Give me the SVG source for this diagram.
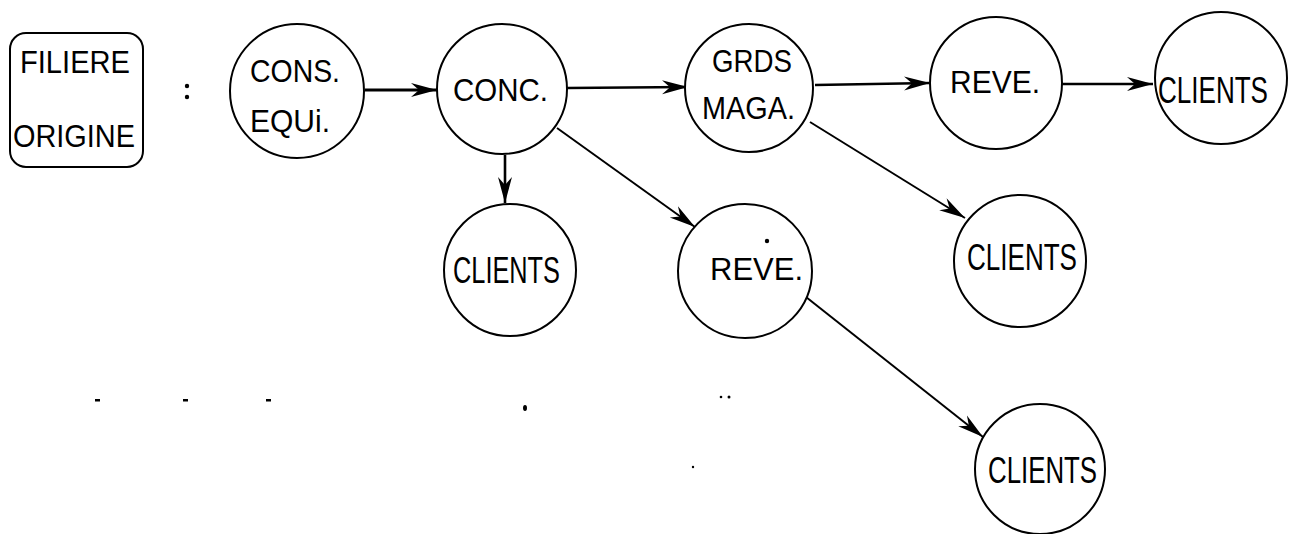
<svg xmlns="http://www.w3.org/2000/svg" width="1296" height="534" viewBox="0 0 1296 534">
<style>
.node{fill:#fff;stroke:#000;stroke-width:2}
.lbl{font-family:"Liberation Sans",Arial,sans-serif;font-size:32px;fill:#000}
.tall{font-size:37px}
.edge{fill:none;stroke:#000;stroke-width:2}
.h{stroke-width:2.6}
.thick{stroke-width:3.2}
.mark{fill:#000}
</style>
<defs>
<marker id="arr" markerUnits="userSpaceOnUse" markerWidth="28" markerHeight="16" refX="26" refY="8" orient="auto">
<path d="M0,1 L26,8 L0,15 L8,8 Z" fill="#000"/>
</marker>
</defs>
<g id="connectors">
<path class="edge thick" d="M365,90 L437,90" marker-end="url(#arr)"/>
<path class="edge h" d="M567,88 L688,87" marker-end="url(#arr)"/>
<path class="edge h" d="M815,85 L930,83" marker-end="url(#arr)"/>
<path class="edge h" d="M1062,84 L1153,84" marker-end="url(#arr)"/>
<path class="edge h" d="M505,155 L505,203" marker-end="url(#arr)"/>
<path class="edge" d="M557,128 L695,227" marker-end="url(#arr)"/>
<path class="edge" d="M810,122 L965,218" marker-end="url(#arr)"/>
<path class="edge" d="M806,297 L983,437" marker-end="url(#arr)"/>
</g>
<g id="filiere-origine">
<rect class="node" x="10" y="33" width="133" height="134" rx="16"/>
<text class="lbl" x="20" y="73" textLength="110" lengthAdjust="spacingAndGlyphs">FILIERE</text>
<text class="lbl" x="13" y="147" textLength="122" lengthAdjust="spacingAndGlyphs">ORIGINE</text>
</g>
<g id="colon">
<circle class="mark" cx="187" cy="86" r="2.2"/>
<circle class="mark" cx="187" cy="97" r="2.2"/>
</g>
<g id="cons-equi">
<circle class="node" cx="297" cy="91" r="67"/>
<text class="lbl" x="250" y="82" textLength="90" lengthAdjust="spacingAndGlyphs">CONS.</text>
<text class="lbl" x="250" y="132" textLength="80" lengthAdjust="spacingAndGlyphs">EQUi.</text>
</g>
<g id="conc">
<circle class="node" cx="502" cy="89" r="65"/>
<text class="lbl" x="453" y="101" textLength="95" lengthAdjust="spacingAndGlyphs">CONC.</text>
</g>
<g id="grds-maga">
<circle class="node" cx="749" cy="88" r="64"/>
<text class="lbl" x="712" y="72" textLength="80" lengthAdjust="spacingAndGlyphs">GRDS</text>
<text class="lbl" x="702" y="119" textLength="93" lengthAdjust="spacingAndGlyphs">MAGA.</text>
</g>
<g id="reve-1">
<circle class="node" cx="996" cy="83" r="66"/>
<text class="lbl" x="950" y="93" textLength="90" lengthAdjust="spacingAndGlyphs">REVE.</text>
</g>
<g id="clients-1">
<circle class="node" cx="1221" cy="78" r="66"/>
<text class="lbl tall" x="1158" y="103" textLength="110" lengthAdjust="spacingAndGlyphs">CLIENTS</text>
</g>
<g id="clients-2">
<circle class="node" cx="510" cy="270" r="66"/>
<text class="lbl tall" x="453" y="283" textLength="107" lengthAdjust="spacingAndGlyphs">CLIENTS</text>
</g>
<g id="reve-2">
<circle class="node" cx="745" cy="271" r="67"/>
<text class="lbl" x="710" y="280" textLength="93" lengthAdjust="spacingAndGlyphs">REVE.</text>
<circle class="mark" cx="767" cy="241" r="2.2"/>
</g>
<g id="clients-3">
<circle class="node" cx="1020" cy="261" r="66"/>
<text class="lbl tall" x="967" y="270" textLength="110" lengthAdjust="spacingAndGlyphs">CLIENTS</text>
</g>
<g id="clients-4">
<circle class="node" cx="1040" cy="469" r="65"/>
<text class="lbl tall" x="988" y="483" textLength="109" lengthAdjust="spacingAndGlyphs">CLIENTS</text>
</g>
<g id="stray-marks">
<rect class="mark" x="95" y="399" width="5" height="2.5"/>
<rect class="mark" x="183" y="399" width="5" height="2.5"/>
<rect class="mark" x="266" y="399" width="5" height="2.5"/>
<ellipse class="mark" cx="525" cy="408" rx="2" ry="3"/>
<circle class="mark" cx="721" cy="397" r="1.3"/>
<circle class="mark" cx="729" cy="397" r="1.5"/>
<circle class="mark" cx="693" cy="467" r="1.2"/>
</g>
</svg>
